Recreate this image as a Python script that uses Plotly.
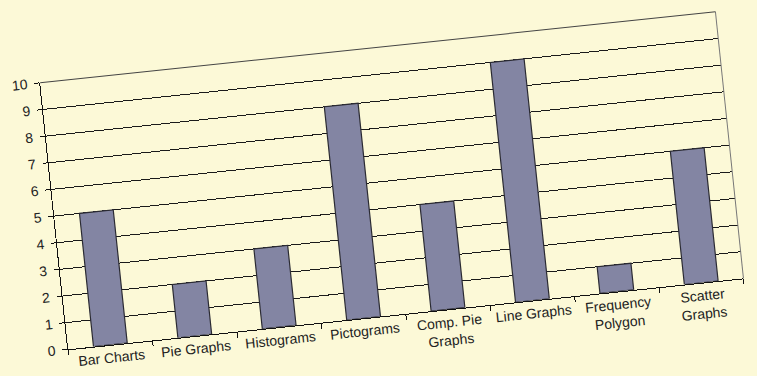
import plotly.graph_objects as go

categories = ["Bar Charts", "Pie Graphs", "Histograms", "Pictograms",
              "Comp. Pie<br>Graphs", "Line Graphs", "Frequency<br>Polygon", "Scatter<br>Graphs"]
values = [5, 2, 3, 8, 4, 9, 1, 5]
y_ticks = list(range(0, 11))

BG = "#FCF9D7"
BAR = "#8385A3"

fig = go.Figure(go.Bar(
    x=categories, y=values,
    marker=dict(color=BAR, line=dict(color="#2b2b33", width=1.2)),
    width=0.4,
))

fig.update_layout(
    width=757, height=376,
    margin=dict(l=53, r=25, t=48, b=60),
    paper_bgcolor=BG, plot_bgcolor=BG,
    font=dict(family="Liberation Sans, Arial, sans-serif", size=14, color="#222"),
    showlegend=False,
    bargap=0.6,
)
fig.update_xaxes(
    showline=True, linecolor="#111", linewidth=1,
    ticks="outside", tickson="boundaries", ticklen=5, tickcolor="#111",
    showgrid=False, tickangle=0,
)
fig.update_yaxes(
    range=[0, 10], tickvals=y_ticks,
    showline=True, linecolor="#111", linewidth=1,
    ticks="outside", ticklen=5, tickcolor="#111",
    showgrid=True, gridcolor="#1a1a1a", gridwidth=1,
    zeroline=False, ticklabelstandoff=4,
)
# plot-area border: top and right edges
fig.add_shape(type="line", xref="paper", yref="paper", x0=1, x1=1, y0=0, y1=1,
              line=dict(color="#777", width=1))
fig.add_shape(type="line", xref="paper", yref="paper", x0=0, x1=1, y0=1, y1=1,
              line=dict(color="#444", width=1))

js = """
document.documentElement.style.overflow='hidden';
document.documentElement.style.background='#FCF9D7';
document.body.style.margin='0';
document.body.style.overflow='hidden';
document.body.style.background='#FCF9D7';
var gd=document.getElementById('{plot_id}');
gd.style.transformOrigin='378.5px 188px';
gd.style.transform='rotate(-6deg)';
"""

fig.write_html("out.html", include_plotlyjs=True, post_script=js)
